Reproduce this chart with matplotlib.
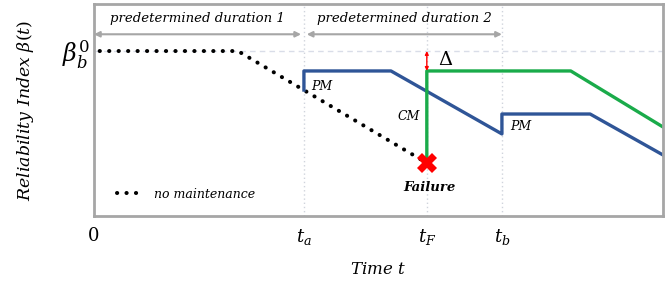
import matplotlib
matplotlib.use("Agg")
import matplotlib.pyplot as plt

plt.rcParams['mathtext.fontset'] = 'dejavuserif'
plt.rcParams['font.family'] = 'DejaVu Serif'

# time marks (arbitrary units) and reliability values
t_a, t_F, t_b = 3.69, 5.85, 7.17
beta0 = 0.778

no_maint_x = [0.1, 2.53, t_F]
no_maint_y = [beta0, beta0, 0.25]

pm_x = [t_a, t_a, 5.22, t_b, t_b, 8.72, 10.0]
pm_y = [0.594, 0.684, 0.684, 0.387, 0.481, 0.481, 0.288]

cm_x = [t_F, t_F, 8.38, 10.0]
cm_y = [0.25, 0.684, 0.684, 0.42]

tick_pos = [0, t_a, t_F, t_b]
tick_labels = ['0', r'$t_a$', r'$t_F$', r'$t_b$']

fig = plt.figure(figsize=(6.67, 2.82), dpi=100)
ax = fig.add_axes([0.1409, 0.234, 0.853, 0.752])
ax.set_xlim(0, 10)
ax.set_ylim(0, 1)

grey = '#a6a6a6'
for s in ax.spines.values():
    s.set_color(grey)
    s.set_linewidth(2)

# guide lines
ax.axhline(beta0, color='#d9dde8', lw=1, ls=(0, (4, 3)), zorder=0)
for t in [t_a, t_F, t_b]:
    ax.axvline(t, color='#d0d4dc', lw=1, ls=(0, (1, 2)), zorder=0)

# curves
ax.plot(no_maint_x, no_maint_y, color='black', lw=2.9, ls=(0, (0.05, 2.3)),
        dash_capstyle='round', label='no maintenance')
ax.plot(pm_x, pm_y, color='#2f5597', lw=2.4)
ax.plot(cm_x, cm_y, color='#1aab4a', lw=2.4)
ax.plot([t_F], [0.25], marker='X', color='red', markersize=14, markeredgewidth=0)

# delta arrow
ax.annotate('', xy=(t_F, beta0), xytext=(t_F, 0.684),
            arrowprops=dict(arrowstyle='<|-|>', color='red', lw=1,
                            mutation_scale=5, shrinkA=0, shrinkB=0))
ax.text(t_F + 0.2, 0.735, r'$\Delta$', fontsize=14, va='center', ha='left')

# duration arrows
for x0, x1, lbl in [(0, t_a - 0.05, 'predetermined duration 1'),
                    (t_a + 0.05, t_b, 'predetermined duration 2')]:
    ax.annotate('', xy=(x1, 0.857), xytext=(x0, 0.857),
                arrowprops=dict(arrowstyle='<|-|>', color=grey, lw=1.5,
                                mutation_scale=8, shrinkA=0, shrinkB=0))
    ax.text((x0 + x1) / 2, 0.93, lbl, ha='center', va='center',
            fontsize=9.5, style='italic')

# labels
ax.text(t_a + 0.12, 0.61, 'PM', fontsize=9, style='italic', va='center')
ax.text(t_b + 0.15, 0.42, 'PM', fontsize=9, style='italic', va='center')
ax.text(t_F - 0.52, 0.47, 'CM', fontsize=9, style='italic', va='center')
ax.text(t_F + 0.05, 0.135, 'Failure', fontsize=9.5, style='italic',
        weight='bold', ha='center', va='center')

leg = ax.legend(loc='lower left', frameon=False, fontsize=9,
                bbox_to_anchor=(0.02, 0.02), handlelength=2.2)
for t in leg.get_texts():
    t.set_style('italic')

ax.set_xticks(tick_pos)
ax.set_xticklabels(tick_labels, fontsize=13)
ax.set_yticks([beta0])
ax.set_yticklabels([r'$\beta_b^0$'], fontsize=17)
ax.tick_params(length=0, pad=8)
ax.tick_params(axis='y', pad=3)

ax.set_xlabel(r'Time $t$', fontsize=12, style='italic', labelpad=10)
ax.set_ylabel(r'Reliability Index $\beta(t)$', fontsize=12.5, style='italic',
              labelpad=19)

plt.savefig('out.png', dpi=100)
